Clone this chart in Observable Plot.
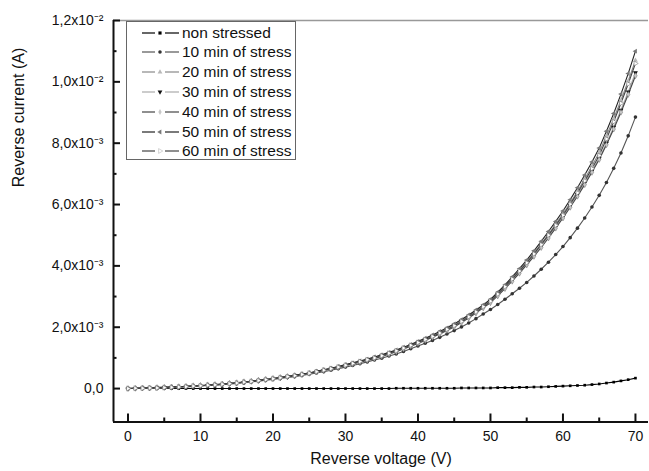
<!DOCTYPE html>
<html><head><meta charset="utf-8">
<script src="https://cdn.jsdelivr.net/npm/d3@7"></script>
<script src="https://cdn.jsdelivr.net/npm/@observablehq/plot@0.6"></script>
<style>
html,body{margin:0;padding:0;background:#fff;}
#wrap{position:relative;width:649px;height:471px;font-family:"Liberation Sans",Arial,sans-serif;}
#legend{position:absolute;left:126px;top:21px;width:170px;height:139px;border:1px solid #666;box-sizing:border-box;background:#fff;}
.row{position:absolute;left:0;height:20px;display:flex;align-items:center;font-size:15.5px;color:#111;white-space:nowrap;}
.row svg{flex:none;}
</style></head><body><div id="wrap"></div>
<script>
// Reverse voltage (V)
const voltage = [0,1,2,3,4,5,6,7,8,9,10,11,12,13,14,15,16,17,18,19,20,21,22,23,24,25,26,27,28,29,30,31,32,33,34,35,36,37,38,39,40,41,42,43,44,45,46,47,48,49,50,51,52,53,54,55,56,57,58,59,60,61,62,63,64,65,66,67,68,69,70];
// Reverse current in mA
const nonStressed = [
0,0,0,0,0,0,0,0,0,0,
0,0,0,0,0,0,0,0,0,0,
0,0,0,0,0,0,0,0,0,0,
0,0,0,0,0,0,0,0.01,0.01,0.01,
0.01,0.01,0.01,0.01,0.01,0.01,0.02,0.02,0.02,0.02,
0.02,0.03,0.03,0.03,0.04,0.04,0.05,0.05,0.06,0.07,
0.08,0.09,0.10,0.11,0.13,0.15,0.18,0.21,0.25,0.29,
0.34];
const stress10 = [
0.00,0.01,0.01,0.02,0.02,0.03,0.04,0.05,0.06,0.07,
0.09,0.10,0.12,0.13,0.15,0.17,0.19,0.22,0.24,0.27,
0.30,0.33,0.36,0.39,0.43,0.47,0.51,0.55,0.60,0.65,
0.70,0.75,0.81,0.87,0.93,0.99,1.06,1.13,1.21,1.30,
1.39,1.48,1.57,1.67,1.78,1.89,2.01,2.14,2.28,2.43,
2.58,2.74,2.91,3.09,3.27,3.46,3.67,3.89,4.12,4.37,
4.63,4.92,5.23,5.56,5.92,6.30,6.72,7.18,7.68,8.24,
8.85];
const stress20 = [
0.00,0.01,0.01,0.02,0.03,0.04,0.05,0.06,0.07,0.08,
0.10,0.11,0.13,0.15,0.17,0.19,0.21,0.24,0.27,0.30,
0.33,0.36,0.40,0.43,0.47,0.51,0.56,0.61,0.66,0.71,
0.77,0.83,0.89,0.95,1.02,1.09,1.16,1.24,1.33,1.42,
1.52,1.62,1.72,1.83,1.95,2.08,2.22,2.37,2.53,2.70,
2.88,3.10,3.34,3.59,3.85,4.13,4.42,4.72,5.03,5.36,
5.70,6.05,6.43,6.83,7.25,7.70,8.24,8.80,9.40,10.03,
10.70];
const stress30 = [
0.00,0.00,0.01,0.01,0.02,0.03,0.03,0.04,0.05,0.07,
0.08,0.10,0.11,0.13,0.15,0.17,0.20,0.22,0.25,0.28,
0.31,0.34,0.38,0.41,0.45,0.49,0.54,0.59,0.64,0.69,
0.75,0.81,0.87,0.93,0.99,1.06,1.14,1.22,1.31,1.40,
1.49,1.59,1.69,1.80,1.92,2.04,2.18,2.33,2.49,2.66,
2.84,3.06,3.30,3.55,3.81,4.08,4.36,4.66,4.97,5.28,
5.61,5.96,6.33,6.71,7.10,7.50,8.00,8.52,9.08,9.67,
10.30];
const stress40 = [
0.00,0.01,0.02,0.02,0.03,0.04,0.05,0.06,0.07,0.09,
0.10,0.12,0.13,0.15,0.17,0.19,0.22,0.24,0.27,0.30,
0.33,0.36,0.39,0.42,0.46,0.50,0.54,0.59,0.64,0.69,
0.75,0.80,0.86,0.92,0.98,1.05,1.12,1.20,1.29,1.38,
1.47,1.57,1.67,1.78,1.89,2.01,2.15,2.30,2.46,2.63,
2.80,3.02,3.26,3.50,3.76,4.03,4.31,4.60,4.91,5.23,
5.56,5.91,6.27,6.65,7.05,7.47,7.95,8.46,9.01,9.59,
10.20];
const stress50 = [
0.00,0.01,0.02,0.02,0.03,0.04,0.05,0.06,0.07,0.08,
0.09,0.11,0.12,0.14,0.16,0.18,0.21,0.23,0.26,0.29,
0.32,0.36,0.39,0.43,0.47,0.51,0.56,0.61,0.66,0.72,
0.78,0.84,0.90,0.96,1.03,1.10,1.18,1.26,1.35,1.44,
1.54,1.64,1.75,1.86,1.98,2.11,2.25,2.40,2.56,2.73,
2.91,3.14,3.38,3.64,3.91,4.19,4.49,4.80,5.12,5.45,
5.79,6.16,6.55,6.96,7.39,7.84,8.39,8.97,9.60,10.27,
11.00];
const stress60 = [
0.00,0.01,0.01,0.02,0.02,0.03,0.04,0.05,0.06,0.08,
0.09,0.11,0.12,0.14,0.16,0.18,0.21,0.23,0.26,0.29,
0.32,0.35,0.39,0.42,0.46,0.50,0.55,0.60,0.65,0.70,
0.76,0.82,0.88,0.94,1.00,1.07,1.15,1.23,1.32,1.41,
1.50,1.60,1.70,1.81,1.93,2.05,2.19,2.34,2.50,2.67,
2.85,3.08,3.32,3.57,3.83,4.10,4.39,4.69,5.00,5.32,
5.65,6.01,6.38,6.77,7.17,7.60,8.14,8.70,9.30,9.93,
10.60];

const seriesNames = ["non stressed","10 min of stress","20 min of stress","30 min of stress","40 min of stress","50 min of stress","60 min of stress"];
const seriesValues = [nonStressed, stress10, stress20, stress30, stress40, stress50, stress60];
const lineColors = ["#000","#555","#888","#aaa","#444","#222","#444"];
const markerColors = ["#000","#333","#b8b8b8","#111","#c8c8c8","#777","#fff"];
const markerSymbols = ["square","circle","triangle","triangle","diamond","triangle","triangle"];
const markerRotate = [0,0,0,180,0,-90,90];

const yTicks = [0, 0.002, 0.004, 0.006, 0.008, 0.010, 0.012];
const yTickLabels = ["0,0","2,0x10\u207B\u00B3","4,0x10\u207B\u00B3","6,0x10\u207B\u00B3","8,0x10\u207B\u00B3","1,0x10\u207B\u00B2","1,2x10\u207B\u00B2"];
const yMinor = [0.001,0.003,0.005,0.007,0.009,0.011];
const xTicks = [0,10,20,30,40,50,60,70];
const xMinor = [5,15,25,35,45,55,65];
const xTitle = "Reverse voltage (V)";
const yTitle = "Reverse current (A)";

const W = 649, H = 471, mL = 113, mR = 1, mT = 20, mB = 49.5;
const pw = W - mL - mR, ph = H - mT - mB;
const xDom = [-2, 71.8], yDom = [-0.00109, 0.012];

const seriesMarks = [];
seriesNames.forEach((name, k) => {
  const rows = voltage.map((v, i) => ({V: v, I: seriesValues[k][i] * 1e-3}));
  seriesMarks.push(Plot.line(rows, {x: "V", y: "I", stroke: lineColors[k], strokeWidth: 1.1}));
});
seriesNames.forEach((name, k) => {
  const rows = voltage.map((v, i) => ({V: v, I: seriesValues[k][i] * 1e-3}));
  seriesMarks.push(Plot.dot(rows, {x: "V", y: "I", symbol: markerSymbols[k], rotate: markerRotate[k], r: k === 0 ? 1.5 : 1.8,
    fill: markerColors[k], stroke: (k === 6 || k === 4) ? "#666" : "none", strokeWidth: 0.5}));
});

const chart = Plot.plot({
  width: W, height: H,
  marginLeft: mL, marginRight: mR, marginTop: mT, marginBottom: mB,
  x: {domain: xDom},
  y: {domain: yDom},
  style: {fontFamily: "'Liberation Sans', Arial, sans-serif", fontSize: "14px", color: "#111", background: "#fff", overflow: "visible"},
  marks: [
    Plot.ruleY([yDom[1]], {stroke: "#999", strokeWidth: 1.5}),
    ...seriesMarks,
    Plot.ruleX([xDom[0]], {stroke: "#111", strokeWidth: 2}),
    Plot.ruleY([yDom[0]], {stroke: "#111", strokeWidth: 2}),
    Plot.tickY(yTicks, {y: d => d, insetRight: pw - 7, stroke: "#111", strokeWidth: 2}),
    Plot.tickY(yMinor, {y: d => d, insetRight: pw - 3.5, stroke: "#111", strokeWidth: 2}),
    Plot.tickX(xTicks, {x: d => d, insetTop: ph - 8, stroke: "#111", strokeWidth: 2}),
    Plot.tickX(xMinor, {x: d => d, insetTop: ph - 4, stroke: "#111", strokeWidth: 2}),
    Plot.axisY({ticks: yTicks, tickSize: 0, tickPadding: 10, tickFormat: (d) => yTickLabels[yTicks.indexOf(d)], label: null, fontSize: 14}),
    Plot.axisX({ticks: xTicks, tickSize: 0, tickPadding: 9, label: null, fontSize: 14}),
    Plot.text([xTitle], {frameAnchor: "bottom", dy: 42, fontSize: 16, fill: "#111"}),
    Plot.text([yTitle], {frameAnchor: "left", dx: -95, dy: -34, rotate: -90, fontSize: 16, fill: "#111"})
  ]
});
const wrap = document.getElementById("wrap");
wrap.appendChild(chart);

// legend
const legend = document.createElement("div");
legend.id = "legend";
seriesNames.forEach((name, k) => {
  const row = document.createElement("div");
  row.className = "row";
  row.style.top = (0.5 + 19.8 * k) + "px";
  const ns = "http://www.w3.org/2000/svg";
  const s = document.createElementNS(ns, "svg");
  s.setAttribute("width", 55); s.setAttribute("height", 20);
  const seg = (x1, x2) => {
    const l = document.createElementNS(ns, "line");
    l.setAttribute("x1", x1); l.setAttribute("x2", x2); l.setAttribute("y1", 10); l.setAttribute("y2", 10);
    l.setAttribute("stroke", lineColors[k]); l.setAttribute("stroke-width", 1.2);
    s.appendChild(l);
  };
  seg(15, 28); seg(38, 52);
  const sym = {square: d3.symbolSquare, circle: d3.symbolCircle, triangle: d3.symbolTriangle, diamond: d3.symbolDiamond}[markerSymbols[k]];
  const p = document.createElementNS(ns, "path");
  p.setAttribute("d", d3.symbol(sym, 10)());
  p.setAttribute("transform", `translate(33,10) rotate(${markerRotate[k]})`);
  p.setAttribute("fill", markerColors[k]);
  if (k === 6) { p.setAttribute("stroke", "#aaa"); p.setAttribute("stroke-width", 0.5); }
  s.appendChild(p);
  row.appendChild(s);
  const t = document.createElement("span");
  t.textContent = name;
  row.appendChild(t);
  legend.appendChild(row);
});
wrap.appendChild(legend);
</script></body></html>
